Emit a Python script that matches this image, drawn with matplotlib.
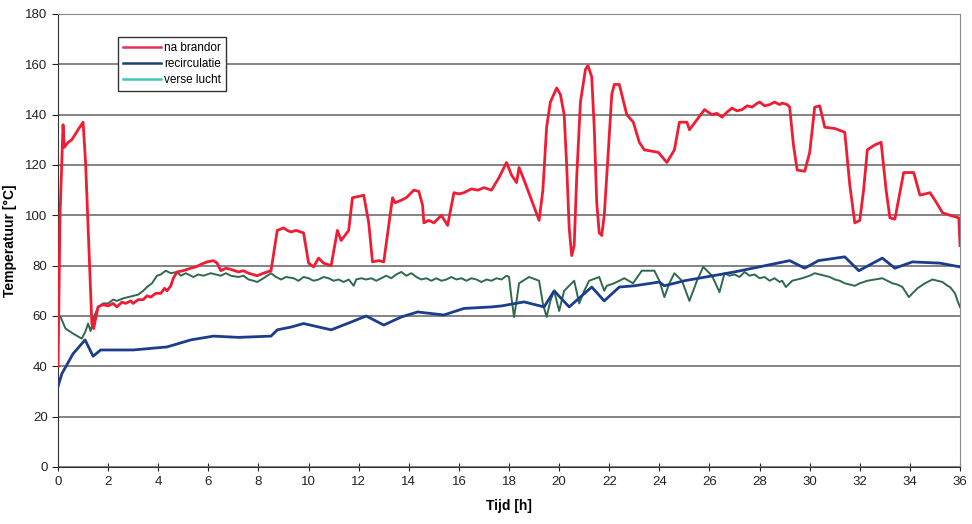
import matplotlib.pyplot as plt
from matplotlib.lines import Line2D

plt.rcParams['font.family'] = ['Liberation Sans', 'DejaVu Sans']

# meetpunten (tijd [h], temperatuur [degC])
na_brandor = [(0, 40), (0.08, 100), (0.2, 136), (0.25, 127), (0.4, 129), (0.55, 130), (0.8, 134), (1.0, 137),
              (1.1, 121), (1.35, 57), (1.42, 55), (1.6, 63.6), (1.8, 64.5), (2.0, 64), (2.2, 65), (2.35, 63.6),
              (2.55, 65.5), (2.7, 65), (2.9, 66), (3.0, 65), (3.2, 66.5), (3.4, 66.5), (3.55, 68), (3.7, 67.5),
              (3.9, 69), (4.1, 69), (4.25, 71), (4.35, 70), (4.5, 72), (4.6, 75), (4.75, 77.5), (5.0, 78),
              (5.3, 79), (5.5, 79.5), (5.7, 80.5), (5.95, 81.5), (6.2, 82), (6.35, 81), (6.5, 78), (6.7, 79),
              (6.9, 78.5), (7.2, 77.5), (7.4, 78), (7.6, 77), (7.95, 76), (8.2, 77), (8.5, 78), (8.75, 94),
              (9.0, 95), (9.15, 94), (9.3, 93.4), (9.5, 94), (9.8, 93), (10.0, 81), (10.2, 79.5), (10.4, 83),
              (10.6, 81), (10.9, 80), (11.15, 94), (11.3, 90), (11.6, 94), (11.75, 107), (12.0, 107.5),
              (12.2, 108), (12.4, 97), (12.55, 81.5), (12.8, 82), (13.0, 81.5), (13.35, 107), (13.45, 105),
              (13.7, 106), (13.9, 107), (14.2, 110), (14.4, 109.5), (14.55, 104), (14.6, 97), (14.8, 98),
              (15.0, 97), (15.3, 100), (15.55, 96), (15.8, 109), (16.0, 108.5), (16.2, 109), (16.5, 110.5),
              (16.75, 110), (17.0, 111), (17.3, 110), (17.6, 115), (17.9, 121), (18.1, 116), (18.3, 113),
              (18.4, 119), (18.6, 114), (18.9, 106), (19.2, 98), (19.35, 110), (19.5, 135), (19.65, 145),
              (19.9, 150.6), (20.05, 148), (20.2, 140), (20.3, 120), (20.4, 95), (20.5, 84), (20.6, 88),
              (20.7, 115), (20.85, 145), (21.05, 158), (21.15, 159.5), (21.3, 155), (21.4, 135), (21.5, 105),
              (21.6, 93), (21.7, 92), (21.8, 100), (21.96, 125), (22.1, 148), (22.2, 152), (22.4, 152),
              (22.7, 140), (22.96, 137), (23.2, 129), (23.4, 126), (23.7, 125.5), (23.96, 125), (24.3, 121),
              (24.6, 126), (24.8, 137), (25.1, 137), (25.2, 134), (25.5, 138), (25.8, 142), (26.1, 140),
              (26.3, 140.5), (26.5, 139), (26.7, 141), (26.9, 142.6), (27.1, 141.5), (27.3, 142), (27.5, 143.5),
              (27.7, 143), (27.9, 144.5), (28.0, 145), (28.2, 143.5), (28.4, 144), (28.6, 145), (28.8, 144),
              (28.9, 144.6), (29.1, 144), (29.2, 143), (29.35, 128), (29.5, 118), (29.8, 117.5), (30.0, 125),
              (30.2, 143), (30.4, 143.5), (30.6, 135), (31.0, 134.5), (31.4, 133), (31.6, 112), (31.8, 97),
              (32.0, 98), (32.15, 110), (32.3, 126), (32.6, 128), (32.85, 129), (33.05, 110), (33.2, 99),
              (33.4, 98.5), (33.75, 117), (34.15, 117), (34.4, 108), (34.8, 109), (35.0, 106), (35.3, 101),
              (35.6, 100), (35.95, 99), (36.0, 88)]

recirculatie = [(0, 32), (0.15, 37), (0.6, 45), (1.08, 50.5), (1.4, 44), (1.7, 46.5), (3.0, 46.5),
                (4.35, 47.7), (5.3, 50.5), (6.2, 52), (7.2, 51.5), (8.5, 52), (8.75, 54.5), (9.3, 55.6),
                (9.8, 57), (10.9, 54.5), (11.7, 57.6), (12.3, 60), (13.0, 56.4), (13.7, 59.6), (14.35, 61.6),
                (15.4, 60.4), (16.2, 63), (17.3, 63.6), (17.7, 64), (18.6, 65.6), (19.4, 63.6), (19.8, 70),
                (20.4, 63.6), (21.3, 71.5), (21.8, 66), (22.4, 71.5), (23.0, 72), (24.0, 73.5), (24.2, 72),
                (25.0, 74), (27.0, 77.5), (29.2, 82), (29.8, 79), (30.35, 82), (31.4, 83.5), (31.96, 78),
                (32.9, 83), (33.4, 79), (34.1, 81.5), (35.2, 81), (36.0, 79.5)]

verse_lucht = [(0, 60), (0.1, 59.6), (0.3, 55), (0.6, 53), (0.95, 51), (1.1, 54), (1.2, 57), (1.3, 54),
               (1.45, 60), (1.6, 63.6), (1.8, 65), (2.0, 65), (2.2, 66.5), (2.35, 66), (2.6, 67), (2.8, 67.5),
               (3.0, 68), (3.2, 68.5), (3.4, 70), (3.55, 71.5), (3.75, 73), (3.95, 76), (4.1, 76.5), (4.3, 78),
               (4.5, 77), (4.75, 77.5), (4.9, 76), (5.1, 77), (5.4, 75.5), (5.6, 76.5), (5.8, 76), (6.1, 77),
               (6.3, 76.5), (6.5, 76), (6.7, 77), (6.9, 76), (7.2, 75.5), (7.4, 76), (7.6, 74.5), (7.8, 74),
               (7.95, 73.5), (8.2, 75), (8.5, 77), (8.7, 75.5), (8.9, 74.5), (9.1, 75.5), (9.4, 75), (9.6, 74),
               (9.8, 75.5), (10.0, 75), (10.2, 74), (10.4, 74.5), (10.6, 75.5), (10.8, 75), (11.0, 74),
               (11.2, 74.5), (11.4, 73.5), (11.6, 74.5), (11.8, 72), (11.9, 74.5), (12.1, 75), (12.3, 74.5),
               (12.5, 75), (12.7, 74), (12.9, 75), (13.1, 76), (13.3, 75), (13.5, 76.5), (13.7, 77.5),
               (13.9, 76), (14.1, 77), (14.3, 75.5), (14.5, 74.5), (14.7, 75), (14.9, 74), (15.1, 75),
               (15.3, 74), (15.5, 74.5), (15.7, 75.5), (15.9, 74.5), (16.1, 75), (16.3, 74), (16.5, 75),
               (16.7, 74.5), (16.9, 73.5), (17.1, 74.5), (17.3, 74), (17.5, 75), (17.7, 74.5), (17.9, 76),
               (18.0, 75.5), (18.1, 67), (18.2, 59.6), (18.3, 66), (18.4, 73), (18.8, 75.5), (19.2, 74),
               (19.35, 65), (19.5, 59.6), (19.65, 66), (19.8, 70), (19.9, 66), (20.0, 62), (20.2, 70),
               (20.6, 74), (20.8, 65), (21.0, 70), (21.2, 74), (21.6, 75.5), (21.8, 70), (21.9, 72),
               (22.2, 73), (22.6, 75), (22.95, 73), (23.3, 78), (23.8, 78), (24.0, 74), (24.2, 67.5),
               (24.4, 73), (24.6, 77), (24.9, 74), (25.2, 66), (25.5, 74), (25.75, 79.5), (26.1, 76),
               (26.4, 69.5), (26.6, 77), (26.8, 76), (27.0, 76.5), (27.2, 75.5), (27.4, 77.5), (27.6, 76),
               (27.8, 76.5), (28.0, 75), (28.2, 75.5), (28.4, 74), (28.6, 75), (28.8, 73.5), (28.9, 74),
               (29.05, 71.5), (29.2, 73), (29.3, 74), (29.5, 74.5), (29.7, 75), (30.0, 76), (30.2, 77),
               (30.4, 76.5), (30.6, 76), (30.8, 75.5), (31.0, 74.5), (31.2, 74), (31.4, 73), (31.6, 72.5),
               (31.8, 72), (32.0, 73), (32.3, 74), (32.6, 74.5), (32.9, 75), (33.1, 74), (33.3, 73),
               (33.5, 72.5), (33.7, 71.5), (33.96, 67.5), (34.1, 69), (34.3, 71), (34.6, 73), (34.9, 74.5),
               (35.1, 74), (35.3, 73.5), (35.5, 72), (35.6, 71.5), (35.8, 69), (35.9, 66), (36.0, 63.5)]

fig = plt.figure(figsize=(9.72, 5.24), dpi=100)
ax = fig.add_axes([0.0597, 0.1088, 0.928, 0.8645])

t, v = zip(*verse_lucht)
ax.plot(t, v, color='#2f6a4c', lw=1.4, zorder=3)
t, v = zip(*recirculatie)
ax.plot(t, v, color='#1c3d8c', lw=2.0, zorder=4)
t, v = zip(*na_brandor)
ax.plot(t, v, color='#f01c34', lw=2.0, zorder=5)

ax.set_xlim(0, 36)
ax.set_ylim(0, 180)
ax.set_xticks(range(0, 37, 2))
ax.set_yticks(range(0, 181, 20))
ax.yaxis.grid(True, color='#6e6e6e', lw=1.2)
ax.set_axisbelow(True)
ax.tick_params(labelsize=9.5, length=4, width=0.8, colors='#222222')
ax.tick_params(axis='x', direction='inout', length=6)
for side in ['top', 'right']:
    ax.spines[side].set_color('#8a8a8a')
ax.spines['left'].set_color('#333333')
ax.spines['bottom'].set_color('#333333')

ax.set_xlabel('Tijd [h]', fontsize=10, fontweight='bold', labelpad=8)
ax.set_ylabel('Temperatuur [°C]', fontsize=10, fontweight='bold', labelpad=6)

handles = [Line2D([], [], color='#e8305a', lw=1.8),
           Line2D([], [], color='#1f3f7a', lw=1.8),
           Line2D([], [], color='#40c8b8', lw=1.8)]
leg = ax.legend(handles, ['na brandor', 'recirculatie', 'verse lucht'], loc='upper left',
                bbox_to_anchor=(0.06, 0.962), fontsize=8.5, frameon=True, fancybox=False,
                framealpha=1, edgecolor='#333333', handlelength=3.2, borderpad=0.4,
                labelspacing=0.35, handletextpad=0.3)
leg.get_frame().set_linewidth(1.0)

fig.savefig('out.png', dpi=100)
